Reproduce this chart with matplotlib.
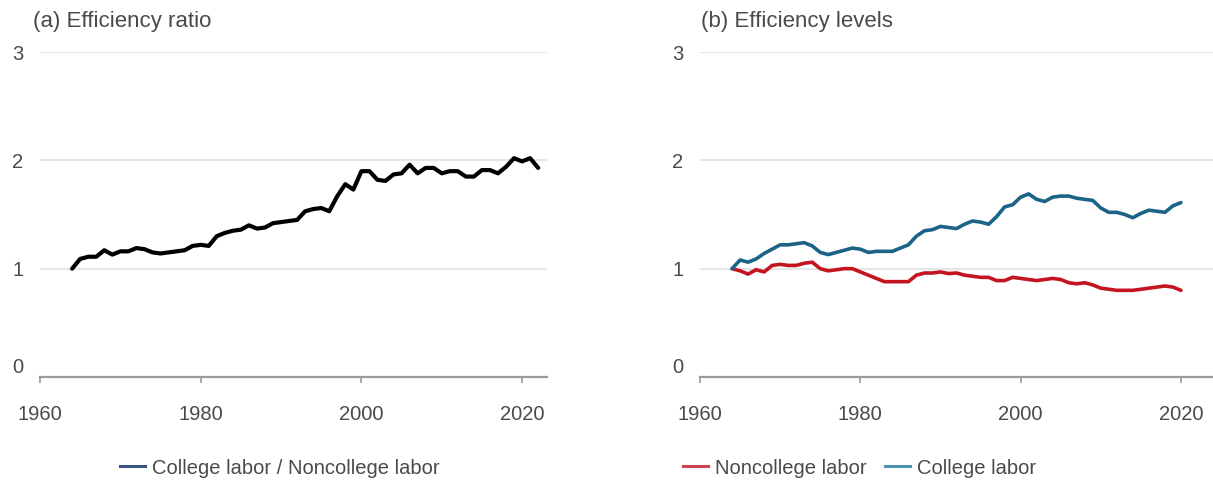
import matplotlib
matplotlib.use("Agg")
import matplotlib.pyplot as plt
from matplotlib.lines import Line2D

plt.rcParams['font.family'] = ['Liberation Sans', 'DejaVu Sans']

# Panel (a): efficiency ratio, college / noncollege labor
ratio_years = list(range(1964, 2023))
ratio_values = [
    1.00, 1.09, 1.11, 1.11, 1.17, 1.13, 1.16, 1.16, 1.19, 1.18,
    1.15, 1.14, 1.15, 1.16, 1.17, 1.21, 1.22, 1.21, 1.30, 1.33,
    1.35, 1.36, 1.40, 1.37, 1.38, 1.42, 1.43, 1.44, 1.45, 1.53,
    1.55, 1.56, 1.53, 1.67, 1.78, 1.73, 1.90, 1.90, 1.82, 1.81,
    1.87, 1.88, 1.96, 1.88, 1.93, 1.93, 1.88, 1.90, 1.90, 1.85,
    1.85, 1.91, 1.91, 1.88, 1.94, 2.02, 1.99, 2.02, 1.93,
]

# Panel (b): efficiency levels of each labor type
level_years = list(range(1964, 2021))
noncollege_values = [
    1.00, 0.98, 0.95, 0.99, 0.97, 1.03, 1.04, 1.03, 1.03, 1.05,
    1.06, 1.00, 0.98, 0.99, 1.00, 1.00, 0.97, 0.94, 0.91, 0.88,
    0.88, 0.88, 0.88, 0.94, 0.96, 0.96, 0.97, 0.955, 0.96, 0.94,
    0.93, 0.92, 0.92, 0.89, 0.89, 0.92, 0.91, 0.90, 0.89, 0.90,
    0.91, 0.90, 0.87, 0.86, 0.87, 0.85, 0.82, 0.81, 0.80, 0.80,
    0.80, 0.81, 0.82, 0.83, 0.84, 0.83, 0.80,
]
college_values = [
    1.00, 1.08, 1.06, 1.09, 1.14, 1.18, 1.22, 1.22, 1.23, 1.24,
    1.21, 1.15, 1.13, 1.15, 1.17, 1.19, 1.18, 1.15, 1.16, 1.16,
    1.16, 1.19, 1.22, 1.30, 1.35, 1.36, 1.39, 1.38, 1.37, 1.41,
    1.44, 1.43, 1.41, 1.48, 1.57, 1.59, 1.66, 1.69, 1.64, 1.62,
    1.66, 1.67, 1.67, 1.65, 1.64, 1.63, 1.56, 1.52, 1.52, 1.50,
    1.47, 1.51, 1.54, 1.53, 1.52, 1.58, 1.61,
]

x_ticks = [1960, 1980, 2000, 2020]
y_ticks = [0, 1, 2, 3]
panel_titles = ["(a) Efficiency ratio", "(b) Efficiency levels"]

RED = "#c4141f"
BLUE = "#1b6488"
TEXT = "#4a4a4a"
GRID = "#e6e6e6"
AXIS = "#9a9a9a"

W, H = 1213, 480
fig = plt.figure(figsize=(W / 100, H / 100), dpi=100)


def px_axes(left, right, top, bottom):
    return fig.add_axes([left / W, 1 - bottom / H, (right - left) / W, (bottom - top) / H])


def style(ax, xmax):
    ax.set_xlim(1960, xmax)
    ax.set_ylim(0, 3)
    for side in ("top", "right", "left"):
        ax.spines[side].set_visible(False)
    ax.spines["bottom"].set_color(AXIS)
    ax.spines["bottom"].set_linewidth(1.6)
    ax.set_xticks(x_ticks)
    ax.set_xticklabels([str(t) for t in x_ticks])
    ax.set_yticks(y_ticks)
    ax.set_yticklabels([str(t) for t in y_ticks])
    ax.tick_params(axis="x", length=4, width=1.2, color=AXIS, pad=16,
                   labelsize=14.5, labelcolor=TEXT)
    ax.tick_params(axis="y", length=0, pad=12, labelsize=14.5, labelcolor=TEXT)
    ax.get_yticklabels()[0].set_verticalalignment("bottom")
    ax.grid(axis="y", color=GRID, linewidth=1.5)
    ax.grid(axis="x", visible=False)
    ax.set_axisbelow(True)


ax1 = px_axes(40, 547, 52, 377)
style(ax1, 2023.1)
ax1.plot(ratio_years, ratio_values, color="black", lw=3.0,
         solid_joinstyle="round", solid_capstyle="round")

ax2 = px_axes(700, 1213, 52, 377)
style(ax2, 2024)
ax2.plot(level_years, noncollege_values, color=RED, lw=2.6,
         solid_joinstyle="round", solid_capstyle="round")
ax2.plot(level_years, college_values, color=BLUE, lw=2.6,
         solid_joinstyle="round", solid_capstyle="round")

fig.text(33 / W, 1 - 22 / H, panel_titles[0], fontsize=16, color=TEXT, va="center", ha="left")
fig.text(701 / W, 1 - 22 / H, panel_titles[1], fontsize=16, color=TEXT, va="center", ha="left")

leg_kw = dict(frameon=False, fontsize=14.5, handlelength=1.25, handletextpad=0.35,
              borderpad=0, borderaxespad=0, labelcolor=TEXT, loc="center left")
fig.legend([Line2D([], [], color="#3d5585", lw=2.2)],
           ["College labor / Noncollege labor"],
           bbox_to_anchor=(120 / W, 1 - 468 / H), **leg_kw)
fig.legend([Line2D([], [], color="#cc4452", lw=2.2), Line2D([], [], color="#4b93b3", lw=2.2)],
           ["Noncollege labor", "College labor"], ncol=2, columnspacing=0.9,
           bbox_to_anchor=(683 / W, 1 - 468 / H), **leg_kw)

fig.savefig("out.png", dpi=100)
